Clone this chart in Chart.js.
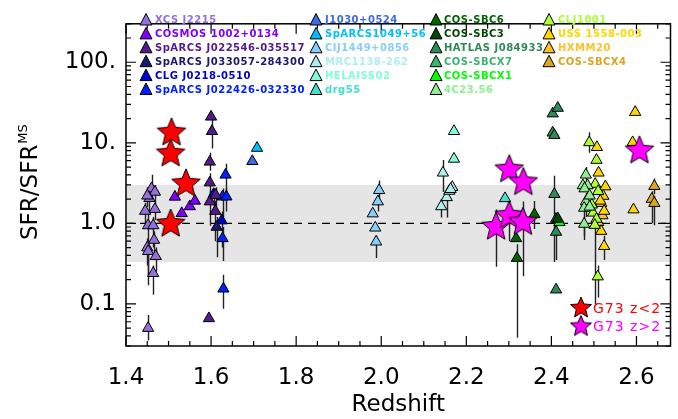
<!DOCTYPE html>
<html>
<head>
<meta charset="UTF-8">
<title>SFR/SFR MS vs redshift</title>
<script src="https://cdn.jsdelivr.net/npm/chart.js@4.4.1/dist/chart.umd.min.js"></script>
<style>
  html, body { margin: 0; padding: 0; background: #fff; }
  #wrap { width: 678px; height: 419px; position: relative; }
</style>
</head>
<body>
<div id="wrap"><canvas id="c"></canvas></div>
<script>
// axis ticks
const X_TICKS = [1.4, 1.6, 1.8, 2.0, 2.2, 2.4, 2.6];
const Y_TICKS = [0.1, 1, 10, 100];
const Y_LABELS = ['0.1', '1.0', '10.', '100.'];
const BAND = [0.33, 3.0];

// [redshift, SFR/SFR_MS, error low, error high]
const XCS_J2215 = [
  [1.460, 2.70, 2.0, 4.0], [1.468, 2.45, 1.9, 3.0], [1.455, 2.05, 1.4, 2.6], [1.450, 2.20, 1.6, 2.8],
  [1.445, 1.42, 1.0, 1.8], [1.468, 1.50, 1.1, 1.9], [1.452, 0.94, 0.22, 1.3], [1.464, 0.94, 0.5, 1.2],
  [1.466, 0.62, 0.4, 0.8], [1.450, 0.50, 0.3, 0.65], [1.452, 0.45, 0.17, 0.6], [1.470, 0.39, 0.25, 0.5],
  [1.464, 0.24, 0.13, 0.3], [1.452, 0.050, 0.035, 0.073]
];
const COSMOS_1002 = [[1.515, 2.13], [1.531, 1.33], [1.550, 1.62], [1.562, 1.90]];
const SPARCS_J022546 = [
  [1.600, 21.0], [1.602, 13.9, 8.5, 21.0], [1.597, 5.8, 4.5, 7.5], [1.597, 3.2, 2.2, 4.2],
  [1.597, 1.86, 0.93, 2.5], [1.611, 2.24, 1.6, 2.8], [1.610, 1.42, 0.6, 1.9], [1.595, 0.066]
];
const SPARCS_J033057 = [[1.613, 0.90, 0.38, 1.2]];
const CLG_J0218 = [[1.625, 1.08, 0.5, 1.4], [1.606, 2.30, 1.5, 2.7]];
const SPARCS_J022426 = [
  [1.634, 4.0, 2.2, 5.5], [1.627, 2.14, 1.2, 2.7], [1.636, 2.14, 1.4, 2.7],
  [1.627, 0.65, 0.34, 0.9], [1.629, 0.154, 0.087, 0.23]
];
const J1030 = [[1.697, 5.9]];
const SPARCS1049 = [[1.708, 8.6]];
const CIJ1449 = [[1.995, 2.57, 1.9, 3.4], [1.992, 1.86, 1.4, 2.2], [1.980, 1.32], [1.986, 0.88], [1.988, 0.59, 0.37, 0.7]];
const MRC1138 = [[2.145, 4.24, 2.45, 6.1], [2.141, 1.62, 1.18, 2.0], [2.154, 2.10, 1.18, 2.6], [2.160, 2.52], [2.167, 2.81], [2.163, 2.65]];
const HELAISS02 = [[2.171, 13.9], [2.171, 6.3]];
const DRG55 = [[2.291, 2.04]];
const COS_SBC6 = [[2.360, 1.29, 0.85, 1.9], [2.317, 0.65], [2.319, 0.37, 0.038, 0.55]];
const COS_SBC3 = [[2.415, 1.15]];
const HATLAS_J084933 = [[2.403, 23.0], [2.415, 27.0], [2.403, 13.3], [2.407, 12.4], [2.407, 2.3, 0.33, 3.9], [2.411, 0.78, 0.35, 1.1], [2.411, 0.15]];
const COS_SBCX7 = [[2.411, 1.13]];
const COS_SBCX1 = [[2.419, 1.03]];
const C4_23_56 = [
  [2.481, 4.0, 3.0, 5.0], [2.474, 2.95], [2.485, 2.95], [2.478, 2.7], [2.481, 1.86, 1.2, 2.4],
  [2.477, 1.55, 0.7, 2.0], [2.490, 1.60], [2.477, 0.98, 0.62, 1.2], [2.490, 2.20]
];
const CLJ1001 = [
  [2.489, 10.1, 7.5, 13.5], [2.506, 6.1], [2.503, 3.07], [2.498, 1.35], [2.506, 1.13],
  [2.502, 0.95, 0.1, 1.3], [2.509, 0.218, 0.12, 0.3], [2.495, 1.70], [2.510, 2.50]
];
const USS_1558 = [
  [2.507, 8.8], [2.511, 4.24], [2.527, 2.86], [2.522, 2.18], [2.524, 1.42], [2.510, 1.03],
  [2.524, 0.52, 0.35, 0.7], [2.593, 1.48], [2.597, 24.0], [2.591, 10.1], [2.515, 1.90], [2.517, 0.80]
];
const HXMM20 = [[2.517, 1.78], [2.520, 1.25]];
const COS_SBCX4 = [[2.642, 2.89, 2.3, 3.6], [2.636, 2.0, 1.0, 2.5], [2.642, 1.78, 0.95, 2.2]];
const G73_LOW = [[1.507, 13.3], [1.505, 7.3], [1.541, 3.1], [1.505, 0.98]];
const G73_HIGH = [[2.301, 4.64], [2.334, 3.22], [2.270, 0.90, 0.29, 1.49], [2.301, 1.24, 0.6, 1.9], [2.333, 1.03, 0.22, 1.86], [2.607, 7.95]];

const CLUSTERS = [
  ['XCS J2215', '#9370DB', XCS_J2215],
  ['COSMOS 1002+0134', '#8000FF', COSMOS_1002],
  ['SpARCS J022546-035517', '#551A8B', SPARCS_J022546],
  ['SpARCS J033057-284300', '#191970', SPARCS_J033057],
  ['CLG J0218-0510', '#0000CD', CLG_J0218],
  ['SpARCS J022426-032330', '#0020FF', SPARCS_J022426],
  ['J1030+0524', '#4169E1', J1030],
  ['SpARCS1049+56', '#00BFFF', SPARCS1049],
  ['CIJ1449+0856', '#87CEFA', CIJ1449],
  ['MRC1138-262', '#AFEEEE', MRC1138],
  ['HELAISS02', '#7FFFD4', HELAISS02],
  ['drg55', '#40E0D0', DRG55],
  ['COS-SBC6', '#006400', COS_SBC6],
  ['COS-SBC3', '#004A00', COS_SBC3],
  ['HATLAS J084933', '#2E8B57', HATLAS_J084933],
  ['COS-SBCX7', '#3CB371', COS_SBCX7],
  ['COS-SBCX1', '#00FF00', COS_SBCX1],
  ['4C23.56', '#90EE90', C4_23_56],
  ['CLJ1001', '#ADFF2F', CLJ1001],
  ['USS 1558-003', '#FFD700', USS_1558],
  ['HXMM20', '#FFC125', HXMM20],
  ['COS-SBCX4', '#DAA520', COS_SBCX4]
];
const STARS = [
  ['G73 z<2', '#FF0000', G73_LOW],
  ['G73 z>2', '#FF00FF', G73_HIGH]
];

const FONT = "'DejaVu Sans', sans-serif";

function starImage(color, r) {
  const s = Math.ceil(r * 2 + 4);
  const cv = document.createElement('canvas');
  cv.width = s; cv.height = s;
  const g = cv.getContext('2d');
  g.beginPath();
  for (let i = 0; i < 10; i++) {
    const rr = i % 2 ? r * 0.45 : r;
    const a = -Math.PI / 2 + i * Math.PI / 5;
    g.lineTo(s / 2 + rr * Math.cos(a), s / 2 + rr * Math.sin(a));
  }
  g.closePath();
  g.fillStyle = color; g.fill();
  g.lineWidth = 1; g.strokeStyle = '#000'; g.stroke();
  return cv;
}

const toPts = arr => arr.map(p => ({ x: p[0], y: p[1], lo: p[2], hi: p[3] }));

const datasets = CLUSTERS.map(([name, color, arr]) => ({
  label: name, data: toPts(arr), pointStyle: 'triangle', pointRadius: 6.5,
  pointBackgroundColor: color, pointBorderColor: '#000', pointBorderWidth: 1, order: 1
})).concat(STARS.map(([name, color, arr]) => ({
  label: name, data: toPts(arr), pointStyle: starImage(color, 15), order: 0
})));

const paper = {
  id: 'paper',
  beforeDatasetsDraw(chart) {
    const { ctx, chartArea: a, scales: { x, y } } = chart;
    ctx.save();
    const t = y.getPixelForValue(BAND[1]), b = y.getPixelForValue(BAND[0]);
    ctx.fillStyle = '#e5e5e5';
    ctx.fillRect(a.left, t, a.right - a.left, b - t);
    const y1 = y.getPixelForValue(1);
    ctx.setLineDash([8, 6]);
    ctx.strokeStyle = '#000'; ctx.lineWidth = 1.3;
    ctx.beginPath(); ctx.moveTo(a.left, y1); ctx.lineTo(a.right, y1); ctx.stroke();
    ctx.setLineDash([]);
    // error bars
    ctx.beginPath(); ctx.rect(a.left, a.top, a.right - a.left, a.bottom - a.top); ctx.clip();
    ctx.strokeStyle = '#222'; ctx.lineWidth = 1.4;
    chart.data.datasets.forEach(ds => ds.data.forEach(p => {
      if (p.lo == null) return;
      const px = Math.round(x.getPixelForValue(p.x)) + 0.5;
      ctx.beginPath();
      ctx.moveTo(px, y.getPixelForValue(p.lo));
      ctx.lineTo(px, y.getPixelForValue(p.hi));
      ctx.stroke();
    }));
    ctx.restore();
  },
  afterDraw(chart) {
    const { ctx, chartArea: a, scales: { x, y } } = chart;
    ctx.save();
    // frame + inward ticks
    ctx.strokeStyle = '#000'; ctx.lineWidth = 1.5;
    ctx.strokeRect(a.left, a.top, a.right - a.left, a.bottom - a.top);
    ctx.lineWidth = 1.2;
    ctx.beginPath();
    for (let i = 0; i * 0.05 + 1.4 <= x.max + 1e-9; i++) {
      const px = x.getPixelForValue(1.4 + i * 0.05);
      const len = i % 4 === 0 ? 10 : 5;
      ctx.moveTo(px, a.bottom); ctx.lineTo(px, a.bottom - len);
      ctx.moveTo(px, a.top); ctx.lineTo(px, a.top + len);
    }
    for (let d = -2; d <= 2; d++) {
      for (let k = 1; k <= 9; k++) {
        const v = k * Math.pow(10, d);
        if (v < y.min || v > y.max) continue;
        const py = y.getPixelForValue(v);
        const len = k === 1 ? 10 : 5;
        ctx.moveTo(a.left, py); ctx.lineTo(a.left + len, py);
        ctx.moveTo(a.right, py); ctx.lineTo(a.right - len, py);
      }
    }
    ctx.stroke();

    // y title with superscript
    ctx.fillStyle = '#000';
    ctx.translate(37, 240);
    ctx.rotate(-Math.PI / 2);
    ctx.textBaseline = 'alphabetic';
    ctx.textAlign = 'left';
    ctx.font = '23px ' + FONT;
    const main = 'SFR/SFR';
    ctx.fillText(main, 0, 0);
    const w = ctx.measureText(main).width;
    ctx.font = '13px ' + FONT;
    ctx.fillText('MS', w + 1, -10);
    ctx.setTransform(1, 0, 0, 1, 0, 0);

    // cluster legend, 4 columns of 6
    const triX = [146, 316, 436, 549], txtX = [155, 325, 444, 558];
    ctx.font = 'bold 10px ' + FONT;
    ctx.letterSpacing = '0.5px';
    ctx.textBaseline = 'middle';
    CLUSTERS.forEach(([name, color], i) => {
      const col = Math.floor(i / 6), row = i % 6;
      const cy = 20 + row * 13.9;
      const cx = triX[col];
      ctx.beginPath();
      ctx.moveTo(cx, cy - 6.5); ctx.lineTo(cx + 6, cy + 5); ctx.lineTo(cx - 6, cy + 5); ctx.closePath();
      ctx.fillStyle = color; ctx.fill();
      ctx.lineWidth = 1; ctx.strokeStyle = '#000'; ctx.stroke();
      ctx.fillStyle = color;
      ctx.fillText(name, txtX[col], cy + 0.5);
    });

    // G73 legend
    ctx.font = '14px ' + FONT;
    ctx.letterSpacing = '1px';
    STARS.forEach(([name, color], i) => {
      const cy = 308 + i * 18.5;
      ctx.drawImage(starImage(color, 11), 581 - 13, cy - 13);
      ctx.fillStyle = color;
      ctx.fillText(name, 593, cy + 1);
    });
    ctx.restore();
  }
};

new Chart(document.getElementById('c'), {
  type: 'scatter',
  data: { datasets },
  options: {
    responsive: true,
    maintainAspectRatio: false,
    animation: false,
    layout: { padding: { top: 10, right: 6, left: 0, bottom: 0 } },
    plugins: { legend: { display: false }, tooltip: { enabled: false } },
    scales: {
      x: {
        type: 'linear', min: 1.4, max: 2.68,
        grid: { display: false, drawTicks: false }, border: { display: false },
        afterBuildTicks: s => { s.ticks = X_TICKS.map(v => ({ value: v })); },
        afterFit: s => { s.height = 73; },
        ticks: { color: '#000', font: { family: FONT, size: 23 }, padding: 18, maxRotation: 0,
                 callback: v => Number(v).toFixed(1) },
        title: { display: true, text: 'Redshift', color: '#000', font: { family: FONT, size: 23 }, padding: 0 }
      },
      y: {
        type: 'logarithmic', min: 0.03, max: 300,
        grid: { display: false, drawTicks: false }, border: { display: false },
        afterBuildTicks: s => { s.ticks = Y_TICKS.map(v => ({ value: v })); },
        afterFit: s => { s.width = 126; },
        ticks: { color: '#000', font: { family: FONT, size: 23 }, padding: 10,
                 callback: v => Y_LABELS[Y_TICKS.indexOf(v)] }
      }
    }
  },
  plugins: [paper]
});
</script>
</body>
</html>
